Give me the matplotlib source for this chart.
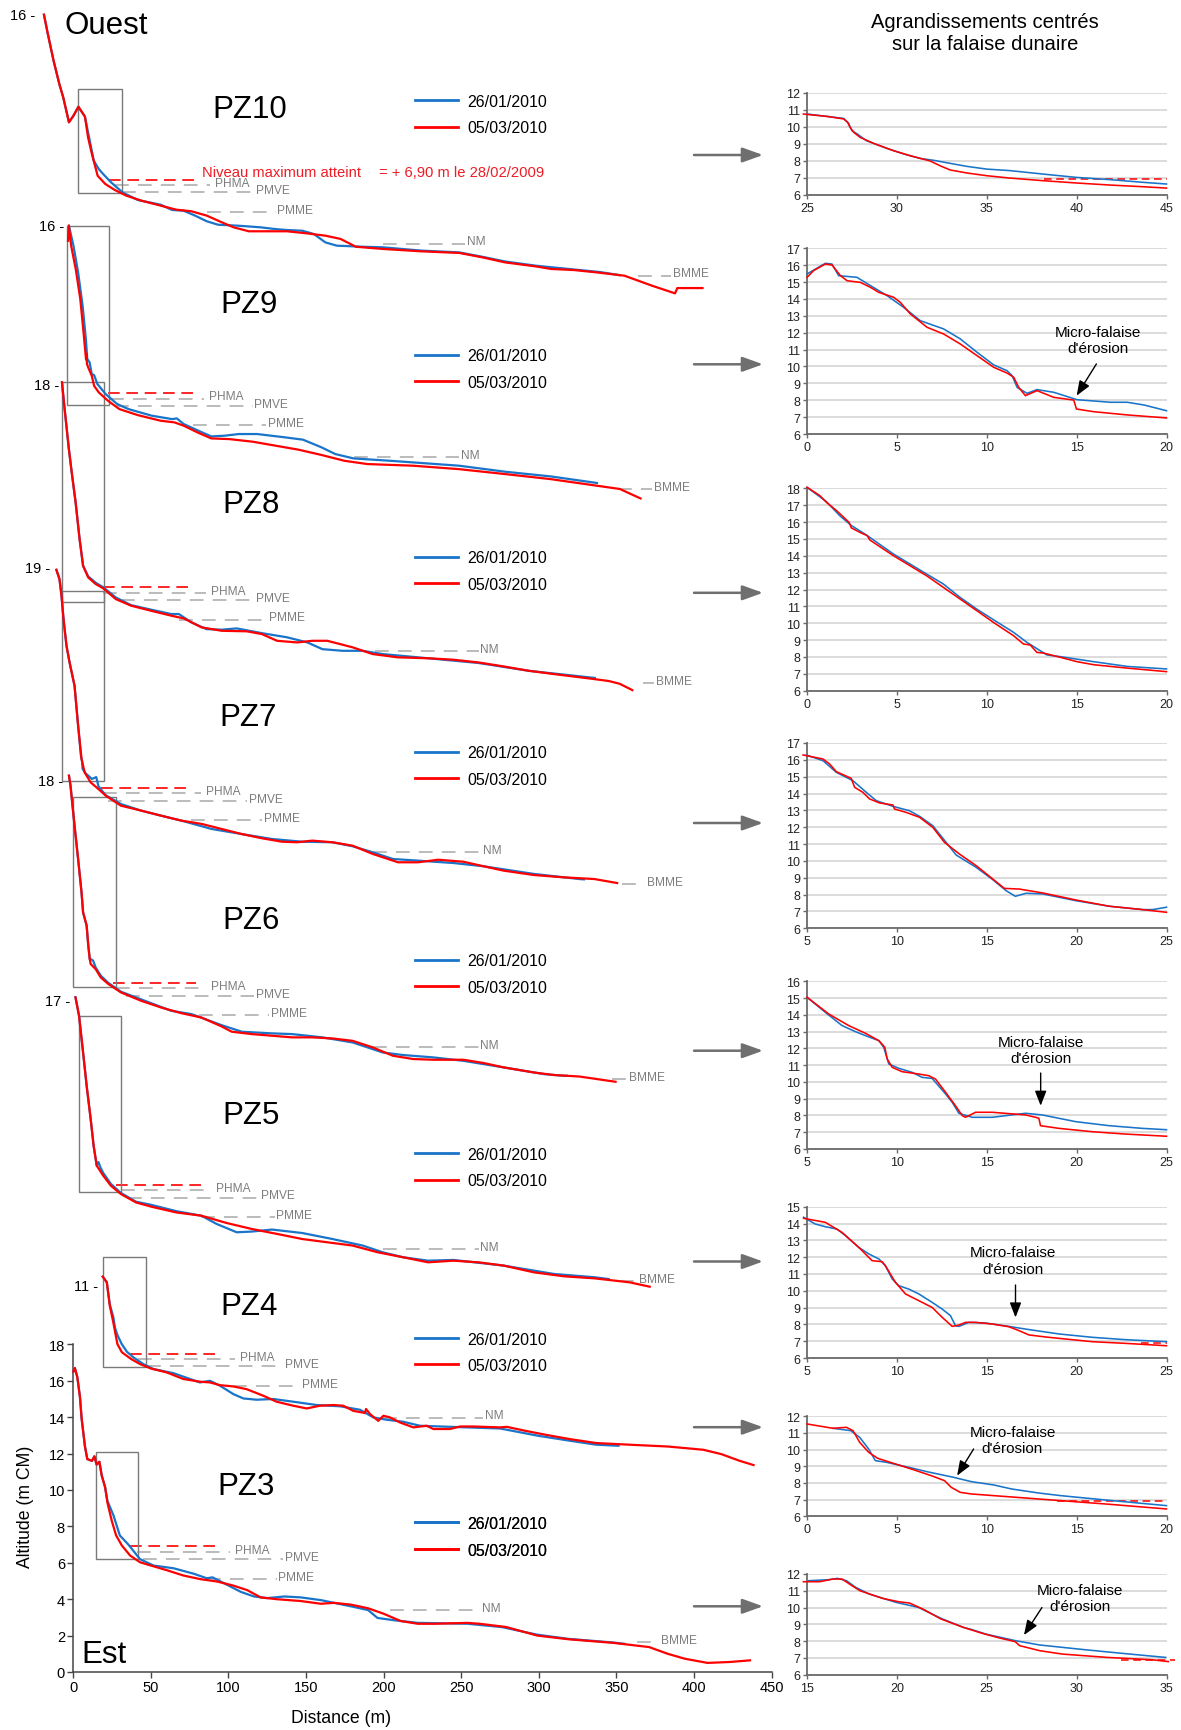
import matplotlib
matplotlib.use("Agg")
import matplotlib.pyplot as plt
from matplotlib.lines import Line2D
from matplotlib.patches import Rectangle

plt.rcParams['font.family'] = ['Liberation Sans', 'DejaVu Sans']

# ---------------------------------------------------------------- data
PROFILES = ['PZ10', 'PZ9', 'PZ8', 'PZ7', 'PZ6', 'PZ5', 'PZ4', 'PZ3']
SERIES = ['26/01/2010', '05/03/2010']
OFFSETS = [75.1, 63.37, 52.7, 41.67, 30.96, 19.87, 10.6, 0.0]   # vertical stacking (m)

PZ10_X_BLUE = [-18.9, -16.4, -12.7, -9.0, -6.5, -2.8, 0.1, 3.3, 7.5, 9.5, 13.2, 16.4, 19.3, 24.3, 31.7, 41.5, 56.3, 63.7, 71.1, 78.5, 86.0, 93.3, 105.7, 120.5, 130.3, 137.7, 147.6, 155.0, 162.4, 169.8, 187.0, 199.4, 224.0, 248.7, 263.5, 278.3, 298.0, 322.7, 339.4, 352]
PZ10_Z_BLUE = [15.96, 14.9, 13.43, 12.15, 11.42, 10.05, 10.41, 10.9, 10.36, 9.5, 7.94, 7.48, 7.2, 6.75, 6.2, 5.78, 5.52, 5.23, 5.19, 4.92, 4.61, 4.42, 4.37, 4.28, 4.18, 4.13, 4.09, 3.91, 3.45, 3.27, 3.21, 3.18, 3.0, 2.9, 2.66, 2.4, 2.17, 1.96, 1.82, 1.65]
PZ10_X_RED = [-18.9, -16.4, -12.7, -9.0, -6.5, -2.8, 0.1, 3.3, 7.5, 9.5, 12.0, 15.7, 20.6, 26.7, 34.1, 44.0, 56.3, 66.2, 76.1, 86.0, 95.8, 103.2, 113.1, 125.4, 137.7, 150.1, 162.4, 172.2, 182.1, 199.4, 224.0, 248.7, 263.5, 278.3, 298.0, 307.8, 322.7, 337.4, 355.1, 372.9, 387.7, 389.2, 405.4]
PZ10_Z_RED = [15.96, 14.9, 13.43, 12.15, 11.42, 10.05, 10.41, 10.9, 10.36, 9.22, 8.3, 7.11, 6.66, 6.33, 6.02, 5.74, 5.47, 5.25, 5.16, 4.92, 4.55, 4.28, 4.06, 4.06, 4.06, 3.95, 3.82, 3.64, 3.21, 3.09, 2.96, 2.87, 2.63, 2.35, 2.13, 1.99, 1.93, 1.8, 1.62, 1.07, 0.65, 0.94, 0.94]

PZ9_X_BLUE = [-2.85, 0.1, 3.1, 6.0, 8.1, 9.0, 10.5, 11.9, 13.4, 15.5, 20.8, 28.2, 35.6, 50.4, 63.7, 66.7, 71.1, 83, 88.9, 97.7, 106.6, 118.5, 136.2, 148, 159.9, 168.8, 180.6, 204.3, 233.8, 248.6, 278.2, 307.8, 337.4]
PZ9_Z_BLUE = [16.1, 15.0, 13.53, 11.7, 9.87, 8.77, 8.59, 7.94, 7.89, 7.4, 6.85, 6.3, 6.02, 5.66, 5.47, 5.51, 5.2, 4.74, 4.52, 4.56, 4.65, 4.65, 4.47, 4.34, 3.92, 3.55, 3.31, 3.18, 3.0, 2.91, 2.58, 2.32, 1.96]
PZ9_X_RED = [-3.4, -2.85, -1.4, 1.6, 4.5, 6.6, 8.2, 8.5, 8.8, 9.6, 11.9, 13.4, 16.4, 22.3, 29.7, 41.5, 56.3, 65.2, 71.1, 80, 88.9, 100.7, 115.5, 130.3, 145.1, 159.9, 174.7, 189.5, 219, 248.6, 278.2, 307.8, 337.4, 352.2, 365.5]
PZ9_Z_RED = [15.27, 16.1, 15.0, 13.7, 12.07, 10.23, 8.75, 9.05, 8.5, 8.31, 7.85, 7.3, 6.94, 6.48, 6.02, 5.69, 5.38, 5.29, 5.11, 4.74, 4.41, 4.37, 4.23, 4.01, 3.79, 3.5, 3.18, 3.0, 2.91, 2.72, 2.45, 2.17, 1.81, 1.63, 1.11]

PZ8_X_BLUE = [-7.3, -5.8, -2.85, -1.0, 1.5, 4.05, 6.3, 9.6, 14.4, 19.3, 27.4, 37.2, 50.1, 63.1, 68, 76.1, 85.8, 95.6, 105.3, 121.5, 137.8, 150.8, 160.5, 173.5, 186.5, 199.4, 228.6, 261.1, 293.6, 332.5, 336]
PZ8_Z_BLUE = [18.16, 16.87, 14.49, 13.2, 11.56, 9.55, 8.08, 7.5, 7.15, 6.9, 6.34, 5.92, 5.67, 5.43, 5.43, 4.97, 4.6, 4.57, 4.64, 4.38, 4.15, 3.87, 3.5, 3.41, 3.41, 3.23, 3.0, 2.74, 2.31, 1.95, 1.92]
PZ8_X_RED = [-7.3, -5.8, -2.85, -1.0, 1.5, 4.05, 6.3, 9.6, 14.4, 19.3, 27.4, 37.2, 50.1, 63.1, 71.2, 82.6, 95.6, 111.8, 121.5, 131.3, 144.3, 154, 163.7, 180, 192.9, 209.2, 228.6, 244.9, 261.1, 277.3, 293.6, 309.8, 332.5, 345, 352, 360.2]
PZ8_Z_RED = [18.16, 16.87, 14.49, 13.2, 11.56, 9.55, 8.08, 7.44, 7.08, 6.84, 6.25, 5.89, 5.61, 5.34, 5.19, 4.7, 4.51, 4.48, 4.33, 3.96, 3.87, 3.96, 3.96, 3.6, 3.23, 3.05, 3.0, 2.92, 2.77, 2.55, 2.31, 2.13, 1.89, 1.75, 1.6, 1.25]

PZ7_X_BLUE = [-10.9, -8.9, -7.6, -6.3, -4.4, -2.4, 0.8, 3.1, 5.0, 5.6, 6.0, 8.0, 12.0, 14.8, 16.2, 20.9, 30.7, 43.7, 56.6, 69.6, 89.1, 108.6, 128, 147.5, 167, 180, 192.9, 205.9, 222.2, 244.9, 264.4, 296.8, 326, 329]
PZ7_Z_BLUE = [18.89, 18.38, 17.47, 16.18, 14.72, 13.8, 12.52, 10.33, 8.6, 8.4, 7.95, 7.7, 7.4, 7.5, 7.0, 6.5, 6.02, 5.66, 5.38, 5.11, 4.65, 4.37, 4.1, 3.95, 3.92, 3.7, 3.37, 3.0, 2.91, 2.78, 2.6, 2.18, 1.9, 1.88]
PZ7_X_RED = [-10.9, -8.9, -7.6, -6.3, -4.4, -2.4, 0.8, 3.1, 5.3, 7.3, 11.2, 16.1, 20.9, 30.7, 43.7, 56.6, 69.6, 82.6, 95.6, 108.6, 121.5, 134.5, 144.3, 154, 167, 180, 192.9, 209.2, 222.2, 235.1, 251.4, 264.4, 277.3, 296.8, 316.3, 335.7, 350.4]
PZ7_Z_RED = [18.89, 18.38, 17.47, 16.18, 14.72, 13.8, 12.52, 10.33, 8.5, 7.76, 7.21, 6.85, 6.48, 5.93, 5.66, 5.38, 5.11, 4.93, 4.65, 4.37, 4.14, 3.95, 3.92, 4.01, 3.92, 3.73, 3.28, 2.82, 2.82, 2.96, 2.85, 2.6, 2.36, 2.12, 1.99, 1.9, 1.68]

PZ6_X_BLUE = [-2.8, -1.8, 0.8, 3.1, 5.3, 6.3, 8.6, 9.6, 10.6, 11.5, 12.8, 14.4, 17.7, 22.6, 30.7, 50.1, 63.1, 76.1, 95.6, 108.6, 128, 141, 160.5, 180, 199.4, 212.4, 231.9, 251.4, 277.3, 303.3, 316.3, 318]
PZ6_Z_BLUE = [18.29, 17.74, 15.54, 13.71, 11.88, 10.78, 10.05, 9.0, 8.21, 8.2, 8.12, 7.75, 7.3, 6.9, 6.42, 5.79, 5.37, 5.19, 4.58, 4.22, 4.13, 4.09, 3.91, 3.63, 3.08, 2.94, 2.81, 2.62, 2.26, 1.89, 1.8, 1.8]
PZ6_X_RED = [-2.8, -1.8, 0.8, 3.1, 5.3, 6.3, 8.6, 9.6, 10.6, 11.2, 14.4, 17.7, 22.6, 30.7, 43.7, 56.6, 69.6, 82.6, 95.6, 102.1, 115.1, 128, 141, 154, 167, 180, 192.9, 205.9, 218.9, 231.9, 251.4, 264.4, 277.3, 296.8, 309.8, 326, 349.4]
PZ6_Z_RED = [18.29, 17.74, 15.54, 13.71, 11.88, 10.78, 10.05, 9.0, 8.21, 7.94, 7.66, 7.2, 6.84, 6.38, 5.92, 5.55, 5.24, 5.0, 4.51, 4.22, 4.09, 4.0, 3.91, 3.91, 3.85, 3.72, 3.36, 2.9, 2.72, 2.68, 2.68, 2.5, 2.26, 1.98, 1.84, 1.76, 1.47]

PZ5_X_BLUE = [1.4, 3.7, 6.3, 8.6, 11.2, 13.1, 15.1, 16.2, 17.5, 19.3, 24.2, 30.7, 40.4, 50.1, 66.4, 82.6, 92.3, 105.3, 115, 128, 147.5, 167, 186.5, 199.4, 212.4, 228.6, 244.9, 277.3, 309.8, 335.7, 345]
PZ5_Z_BLUE = [17.2, 16.19, 14.17, 12.34, 10.51, 9.04, 7.95, 8.15, 7.85, 7.55, 6.95, 6.45, 5.97, 5.8, 5.45, 5.2, 4.75, 4.29, 4.33, 4.44, 4.25, 3.92, 3.56, 3.19, 2.92, 2.73, 2.77, 2.46, 2.0, 1.82, 1.72]
PZ5_X_RED = [1.4, 3.7, 6.3, 8.6, 11.2, 13.1, 15.1, 17.0, 19.3, 24.2, 30.7, 40.4, 50.1, 66.4, 82.6, 98.8, 115.1, 131.3, 147.5, 163.7, 180, 196.2, 212.4, 228.6, 244.9, 261.1, 277.3, 296.8, 316.3, 335.7, 358.5, 371.4]
PZ5_Z_RED = [17.2, 16.19, 14.17, 12.34, 10.51, 9.04, 7.95, 7.7, 7.4, 6.85, 6.39, 5.93, 5.7, 5.38, 5.2, 4.8, 4.47, 4.2, 3.92, 3.74, 3.56, 3.19, 2.92, 2.64, 2.73, 2.64, 2.46, 2.09, 1.87, 1.76, 1.54, 1.3]

PZ4_X_BLUE = [19.0, 21.6, 23.5, 25.8, 26.9, 28.5, 31.2, 34.5, 38.7, 45.1, 51.6, 64.5, 81.6, 88.1, 94.5, 103.1, 109.6, 118.2, 128.9, 141.8, 156.8, 171.8, 184.7, 193.3, 201.9, 212.6, 223.4, 253.5, 274.9, 279.3, 299.5, 319.7, 336.9, 351.3]
PZ4_Z_BLUE = [11.12, 10.81, 9.6, 8.9, 8.3, 7.9, 7.42, 7.0, 6.69, 6.32, 6.05, 5.82, 5.31, 5.4, 5.13, 4.67, 4.43, 4.36, 4.4, 4.25, 4.07, 4.0, 3.81, 3.39, 3.26, 3.15, 2.93, 2.84, 2.78, 2.71, 2.38, 2.11, 1.89, 1.83]
PZ4_X_RED = [19.0, 21.6, 23.5, 25.8, 28.4, 31.3, 37.2, 43.0, 49.8, 60.2, 70.9, 81.6, 88.1, 94.5, 103.1, 111.7, 122.4, 131.0, 141.8, 150.4, 158.9, 167.5, 174.0, 180.4, 187.9, 188.6, 191.2, 196.5, 199.8, 204.0, 210.5, 219.1, 227.7, 232.0, 242.7, 249.2, 257.8, 274.9, 279.3, 290.8, 305.3, 319.7, 336.9, 362.9, 383.0, 406.0, 417.6, 429.1, 438.3]
PZ4_Z_RED = [11.12, 10.81, 9.53, 8.6, 7.42, 6.97, 6.6, 6.32, 6.08, 5.86, 5.5, 5.35, 5.31, 5.16, 5.09, 4.94, 4.58, 4.25, 4.03, 3.88, 4.03, 4.07, 4.03, 3.75, 3.63, 3.85, 3.57, 3.2, 3.48, 3.39, 3.11, 2.84, 2.93, 2.75, 2.75, 2.89, 2.89, 2.84, 2.87, 2.66, 2.42, 2.2, 1.98, 1.87, 1.79, 1.61, 1.37, 1.01, 0.77]

PZ3_X_BLUE = [0, 1, 2.6, 4.3, 5.4, 7.5, 9, 12, 13.6, 15, 16.8, 18.3, 20.5, 22, 25.9, 30, 35.5, 43, 51.7, 64.6, 77.6, 86, 89.7, 95, 108, 116.4, 125, 136, 146.5, 159.5, 168, 181, 190, 196, 207, 222, 254, 276, 299, 319, 348, 355]
PZ3_Z_BLUE = [16.5, 16.7, 16.2, 15.1, 13.9, 12.4, 11.7, 11.6, 11.85, 11.4, 11.55, 10.8, 10.15, 9.4, 8.6, 7.5, 7.0, 6.2, 5.85, 5.7, 5.4, 5.15, 5.2, 4.97, 4.4, 4.15, 4.06, 4.15, 4.1, 3.95, 3.8, 3.57, 3.4, 2.97, 2.84, 2.7, 2.65, 2.47, 2.05, 1.82, 1.62, 1.55]
PZ3_X_RED = [0, 1, 2.6, 4.3, 5.4, 7.5, 9, 12, 13.6, 15, 16.8, 18.3, 20.5, 22, 24.8, 27.6, 31.3, 36.6, 43, 50, 60, 71, 82, 92.7, 103, 112, 120.7, 131, 146.5, 159.5, 168, 179, 190, 200, 211, 222, 233, 254, 261.8, 279, 299, 319, 348, 371, 383, 394, 408.6, 423, 436]
PZ3_Z_RED = [16.5, 16.7, 16.2, 15.1, 13.9, 12.4, 11.7, 11.6, 11.85, 11.4, 11.55, 10.8, 10.15, 9.3, 8.3, 7.5, 6.95, 6.4, 6.03, 5.85, 5.6, 5.3, 5.1, 4.97, 4.75, 4.5, 4.1, 4.0, 3.9, 3.75, 3.8, 3.7, 3.5, 3.2, 2.8, 2.65, 2.65, 2.7, 2.65, 2.47, 2.0, 1.8, 1.6, 1.37, 1.0, 0.73, 0.5, 0.55, 0.64]

# tide levels (m CM)
LEVEL_NAMES = ['PHMA', 'PMVE', 'PMME', 'NM', 'BMME']
LEVEL_VALUES = [6.6, 6.2, 5.12, 3.38, 1.63]
MAX_LEVEL = 6.9
MAX_LABEL = ['Niveau maximum atteint', '= + 6,90 m le 28/02/2009']
# extent (x start, x end) of each level line per profile
MAX_EXTENT = [(23.1, 78.5), (22.3, 77), (19.3, 76.1), (17.7, 76.1), (25.8, 79.3), (27.4, 82.6), (36.5, 92.4), (36.5, 92.4)]
LEVEL_EXTENTS = [
    [(26.7, 88.4), (31.7, 116.8), (86, 130.3), (199.4, 252.4), (364, 385)],
    [(23.8, 84.4), (26.7, 115.5), (77, 124.4), (180.6, 248.6), (350.7, 372.9)],
    [(19.3, 85.8), (30.7, 116.7), (68, 124.8), (194.6, 261.1), (367, 374)],
    [(19.3, 82.6), (22.6, 111.8), (76.1, 121.5), (192.9, 262.7), (353.7, 368.2)],
    [(27.4, 85.8), (33.9, 116.7), (81, 126.4), (193, 261.1), (347.1, 356.8)],
    [(30.7, 89.1), (35.5, 119.9), (82.6, 129.7), (199.4, 261.1), (352, 363.3)],
    [(41.9, 104.2), (47.3, 135.3), (103.1, 146.1), (199.8, 264.2), None],
    [(40.8, 101), (45.1, 135.3), (86, 131), (204, 262), (362.9, 377.3)],
]
# zoom boxes on the main chart (x0, x1, z0, z1)
BOXES = [(3.3, 31.2, 6.16, 11.88), (-4.3, 22.9, 6.27, 16.06), (-7.6, 20.0, 6.07, 18.2), (-7.6, 20.0, 7.27, 17.72),
         (-0.2, 27.4, 6.65, 17.1), (3.7, 30.7, 6.48, 16.15), (19.0, 46.9, 6.14, 12.18), (14.4, 41.5, 6.2, 12.1)]
TOP_LABELS = ['16', '16', '18', '19', '18', '17', '11', None]
TOP_LABEL_Z = [15.97, 16.1, 18.03, 18.99, 17.98, 17.01, 10.63, None]
TOP_LABEL_X = [-24.7, -5.8, -8.8, -14.8, -6.6, -1.8, 16.0, None]

# insets (enlargements of the dune cliff)
INSET_XLIM = [(25, 45), (0, 20), (0, 20), (5, 25), (5, 25), (5, 25), (0, 20), (15, 35)]
INSET_YLIM = [(6, 12), (6, 17), (6, 18), (6, 17), (6, 16), (6, 15), (6, 12), (6, 12)]

IN_PZ10_X_BLUE = [25.0, 27.04, 27.3, 27.5, 27.8, 28.3, 29.4, 30.4, 31.3, 32.04, 32.96, 33.9, 35.0, 36.3, 38.1, 40.0, 41.85, 43.7, 45.0]
IN_PZ10_Z_BLUE = [10.76, 10.5, 10.23, 9.78, 9.58, 9.19, 8.75, 8.4, 8.14, 8.03, 7.85, 7.67, 7.51, 7.42, 7.22, 7.02, 6.89, 6.73, 6.63]
IN_PZ10_X_RED = [24.8, 26.1, 27.04, 27.26, 27.4, 27.6, 27.96, 28.7, 29.8, 30.74, 31.85, 32.4, 32.96, 33.9, 35.0, 36.3, 38.1, 40.0, 41.85, 43.7, 45.0]
IN_PZ10_Z_RED = [10.76, 10.62, 10.47, 10.27, 9.97, 9.68, 9.38, 9.03, 8.6, 8.3, 7.99, 7.71, 7.46, 7.28, 7.12, 6.98, 6.83, 6.69, 6.57, 6.47, 6.39]

IN_PZ9_X_BLUE = [0, 1.02, 1.39, 1.76, 2.78, 3.53, 4.45, 5.38, 6.31, 7.61, 8.53, 9.46, 10.39, 11.13, 11.41, 11.69, 12.24, 12.8, 13.73, 15.03, 16.88, 17.81, 18.74, 20]
IN_PZ9_Z_BLUE = [15.48, 16.11, 16.07, 15.38, 15.28, 14.79, 14.2, 13.5, 12.71, 12.22, 11.63, 10.84, 10.09, 9.75, 9.46, 8.76, 8.41, 8.63, 8.47, 8.03, 7.88, 7.88, 7.72, 7.38]
IN_PZ9_X_RED = [0, 0.37, 1.02, 1.39, 1.86, 2.23, 2.97, 3.53, 3.99, 4.82, 5.19, 5.75, 6.68, 7.61, 8.53, 9.46, 10.39, 11.13, 11.5, 11.78, 12.15, 12.8, 13.73, 14.84, 14.99, 15.96, 17.81, 20]
IN_PZ9_Z_RED = [15.28, 15.68, 16.07, 16.01, 15.38, 15.08, 14.98, 14.69, 14.39, 14.1, 13.8, 13.11, 12.32, 11.92, 11.33, 10.64, 9.95, 9.61, 9.36, 8.76, 8.27, 8.57, 8.17, 8.01, 7.48, 7.32, 7.13, 6.95]

IN_PZ8_X_BLUE = [0, 1.08, 1.82, 2.47, 3.31, 4.8, 6.65, 7.58, 8.51, 9.44, 10.37, 11.49, 12.23, 13.35, 14.09, 15.95, 17.81, 20]
IN_PZ8_Z_BLUE = [18.06, 17.21, 16.38, 15.79, 15.23, 14.11, 12.92, 12.33, 11.54, 10.84, 10.21, 9.46, 8.87, 8.12, 8.02, 7.72, 7.44, 7.29]
IN_PZ8_X_RED = [0, 0.71, 1.08, 1.64, 2.34, 2.47, 2.94, 3.35, 3.49, 4.8, 6.65, 7.58, 8.51, 9.44, 10.37, 11.49, 12.04, 12.42, 12.79, 13.16, 14.09, 15.02, 15.95, 17.81, 20]
IN_PZ8_Z_RED = [18.06, 17.57, 17.17, 16.68, 15.98, 15.65, 15.39, 15.19, 14.94, 14.01, 12.82, 12.13, 11.44, 10.75, 10.05, 9.26, 8.77, 8.71, 8.27, 8.23, 7.98, 7.72, 7.54, 7.34, 7.13]

IN_PZ7_X_BLUE = [4.96, 5.89, 6.63, 7.56, 8.3, 8.85, 9.78, 10.7, 11.26, 12.0, 12.74, 13.3, 14.41, 15.33, 16.07, 16.59, 17.19, 18.11, 19.96, 21.81, 23.67, 24.22, 25]
IN_PZ7_Z_BLUE = [16.29, 15.95, 15.26, 14.76, 14.07, 13.58, 13.24, 12.98, 12.65, 12.09, 11.1, 10.35, 9.62, 8.89, 8.24, 7.9, 8.08, 8.04, 7.64, 7.31, 7.11, 7.11, 7.25]
IN_PZ7_X_RED = [4.78, 5.89, 6.26, 6.63, 7.46, 7.65, 8.11, 8.48, 9.04, 9.78, 9.87, 10.52, 11.26, 12.0, 12.65, 13.48, 14.41, 15.33, 15.98, 16.81, 18.11, 19.96, 21.81, 23.67, 25]
IN_PZ7_Z_RED = [16.29, 16.05, 15.75, 15.3, 14.9, 14.37, 14.07, 13.68, 13.44, 13.32, 13.08, 12.88, 12.59, 11.99, 11.1, 10.41, 9.72, 8.93, 8.37, 8.33, 8.1, 7.68, 7.31, 7.11, 6.95]

IN_PZ6_X_BLUE = [5, 6.02, 6.95, 7.69, 8.25, 9.0, 9.27, 9.55, 10.11, 10.85, 11.41, 11.96, 12.71, 13.08, 13.45, 14.19, 15.31, 17.16, 18.09, 19.95, 21.81, 23.66, 25]
IN_PZ6_Z_BLUE = [15.05, 14.15, 13.36, 13.0, 12.76, 12.46, 12.06, 11.07, 10.81, 10.57, 10.27, 10.21, 9.28, 8.78, 8.13, 7.89, 7.89, 8.13, 8.03, 7.63, 7.39, 7.23, 7.15]
IN_PZ6_X_RED = [5, 6.21, 7.32, 8.25, 9.0, 9.33, 9.46, 9.74, 10.29, 11.22, 11.78, 12.15, 12.71, 13.26, 13.64, 13.82, 14.38, 15.31, 17.16, 17.72, 17.9, 17.99, 19.02, 20.88, 22.73, 25]
IN_PZ6_Z_RED = [15.05, 14.05, 13.36, 12.9, 12.46, 12.06, 11.37, 10.87, 10.61, 10.47, 10.37, 10.17, 9.38, 8.58, 7.99, 7.89, 8.19, 8.19, 8.03, 7.89, 7.83, 7.39, 7.23, 7.03, 6.89, 6.76]

IN_PZ5_X_BLUE = [4.81, 5.46, 6.02, 6.67, 7.14, 7.88, 8.44, 9.0, 9.36, 9.74, 10.11, 10.66, 11.22, 11.96, 12.52, 12.98, 13.26, 13.45, 14.0, 14.94, 16.23, 17.16, 19.02, 20.88, 22.73, 25]
IN_PZ5_Z_BLUE = [14.37, 13.97, 13.81, 13.67, 13.28, 12.58, 12.19, 11.89, 11.49, 10.7, 10.3, 10.1, 9.81, 9.31, 8.91, 8.52, 7.92, 7.88, 8.12, 8.08, 7.88, 7.72, 7.43, 7.23, 7.09, 6.97]
IN_PZ5_X_RED = [4.81, 6.02, 6.95, 7.88, 8.62, 9.18, 9.36, 9.92, 10.48, 11.22, 11.96, 12.52, 13.08, 13.45, 13.82, 14.38, 15.31, 16.23, 16.79, 17.35, 18.28, 19.0, 20.88, 22.73, 25]
IN_PZ5_Z_RED = [14.31, 14.07, 13.47, 12.58, 11.79, 11.73, 11.49, 10.5, 9.81, 9.41, 9.01, 8.42, 7.88, 7.96, 8.12, 8.12, 8.02, 7.86, 7.63, 7.37, 7.25, 7.17, 6.97, 6.87, 6.73]

IN_PZ4_X_BLUE = [1.44, 2.43, 2.93, 3.43, 3.8, 4.42, 5.66, 6.66, 8.15, 9.14, 10.39, 11.38, 12.87, 14.11, 16.6, 20]
IN_PZ4_Z_BLUE = [11.28, 11.14, 10.74, 10.04, 9.34, 9.24, 8.94, 8.68, 8.34, 8.08, 7.88, 7.64, 7.4, 7.24, 6.98, 6.64]
IN_PZ4_X_RED = [0, 1.44, 2.19, 2.56, 2.93, 3.43, 3.93, 4.92, 5.91, 6.91, 7.65, 8.02, 8.52, 9.14, 11.63, 14.11, 16.6, 20]
IN_PZ4_Z_RED = [11.54, 11.28, 11.34, 11.14, 10.44, 9.84, 9.48, 9.14, 8.8, 8.44, 8.14, 7.74, 7.44, 7.34, 7.14, 6.94, 6.74, 6.44]

IN_PZ3_X_BLUE = [15.08, 16.2, 16.7, 17.2, 17.7, 18.45, 19.95, 21.2, 22.45, 23.7, 24.2, 24.95, 26.58, 27.95, 30.45, 32.95, 34.95]
IN_PZ3_Z_BLUE = [11.6, 11.66, 11.74, 11.6, 11.21, 10.81, 10.31, 10.01, 9.36, 8.82, 8.68, 8.42, 8.03, 7.77, 7.49, 7.23, 7.03]
IN_PZ3_X_RED = [14.8, 15.7, 16.45, 16.95, 17.45, 17.95, 19.2, 20.08, 20.7, 21.45, 22.45, 23.7, 24.7, 25.7, 26.58, 26.83, 27.95, 29.2, 31.7, 34.2, 35.1]
IN_PZ3_Z_RED = [11.54, 11.54, 11.7, 11.7, 11.34, 11.0, 10.55, 10.35, 10.27, 9.91, 9.32, 8.82, 8.48, 8.19, 7.97, 7.73, 7.43, 7.23, 7.03, 6.89, 6.78]

INSET_MAX_EXTENT = [(38.2, 45), None, None, None, None, (23.6, 25), (13.9, 20), (32.45, 35.5)]
ANNOT_TEXT = "Micro-falaise\nd'érosion"
# (text x, text y, arrow start x, y, arrow tip x, y) per inset
ANNOTS = [None, (16.2, 11.57, 16.1, 10.15, 15.0, 8.27), None, None,
          (18.0, 11.9, 18.0, 10.53, 18.0, 8.58), (16.46, 11.8, 16.6, 10.34, 16.6, 8.41),
          (11.43, 10.6, 9.27, 10.04, 8.35, 8.44), (30.16, 10.58, 28.07, 10.0, 27.07, 8.36)]

MAIN_XTICKS = list(range(0, 451, 50))
MAIN_YTICKS = list(range(0, 19, 2))

# ---------------------------------------------------------------- layout
W, H, DPI = 1181, 1731, 100
BLUE = '#1a74c9'
RED = '#ff0000'
GRAY_LINE = '#a8a8a8'
GRAY_TXT = '#7d7d7d'
AX_COL = '#454545'

def fx(px):
    return px / W

def fy(py):
    return 1 - py / H

fig = plt.figure(figsize=(W / DPI, H / DPI), dpi=DPI)

# main axes: x=0 at px 73.3, 1.552 px/m ; z=0 at py 1673, 18.2 px/m
X_MIN, X_MAX = -30, 455
x_left_px = 73.3 + X_MIN * 1.552
x_right_px = 73.3 + X_MAX * 1.552
Y_MAX = 1673 / 18.2
ax = fig.add_axes([fx(x_left_px), fy(1673), (x_right_px - x_left_px) / W, 1673 / H])
ax.set_xlim(X_MIN, X_MAX)
ax.set_ylim(0, Y_MAX)
ax.patch.set_alpha(0)
for s in ['top', 'right']:
    ax.spines[s].set_visible(False)
ax.spines['left'].set_position(('data', 0))
ax.spines['left'].set_bounds(0, 18)
ax.spines['bottom'].set_bounds(0, 450)
for s in ['left', 'bottom']:
    ax.spines[s].set_color(AX_COL)
    ax.spines[s].set_linewidth(1.1)
ax.set_xticks(MAIN_XTICKS)
ax.set_yticks(MAIN_YTICKS)
ax.tick_params(direction='out', length=4, width=1, color=AX_COL, labelsize=10.5, pad=2)

data = globals()
for i, name in enumerate(PROFILES):
    off = OFFSETS[i]
    xb, zb = data[name + '_X_BLUE'], data[name + '_Z_BLUE']
    xr, zr = data[name + '_X_RED'], data[name + '_Z_RED']
    lb, = ax.plot(xb, [z + off for z in zb], color=BLUE, lw=1.6, clip_on=False, zorder=3)
    lr, = ax.plot(xr, [z + off for z in zr], color=RED, lw=1.6, clip_on=False, zorder=4)

    # max level (red dashed)
    x0, x1 = MAX_EXTENT[i]
    ax.plot([x0, x1], [MAX_LEVEL + off] * 2, color=RED, lw=1.2, dashes=(7, 4), zorder=2)
    # tide levels
    for lvl_name, lvl, ext in zip(LEVEL_NAMES, LEVEL_VALUES, LEVEL_EXTENTS[i]):
        if ext is None:
            continue
        ax.plot([ext[0], ext[1]], [lvl + off] * 2, color=GRAY_LINE, lw=1.1, dashes=(9, 6), zorder=1)
        gap = 3.0 if lvl_name == 'PHMA' else 1.2
        ax.text(ext[1] + gap, lvl + off + 0.12, lvl_name, color=GRAY_TXT, fontsize=8.6,
                ha='left', va='center')
    # box
    bx0, bx1, bz0, bz1 = BOXES[i]
    ax.add_patch(Rectangle((bx0, bz0 + off), bx1 - bx0, bz1 - bz0, fill=False,
                           ec='#7a7a7a', lw=1.0, clip_on=False, zorder=2))
    # top label
    if TOP_LABELS[i] is not None:
        ax.text(TOP_LABEL_X[i], TOP_LABEL_Z[i] + off, TOP_LABELS[i] + ' -', ha='right',
                va='center', fontsize=10.5)
    # legend
    leg_mid = [115.5, 370.2, 572.2, 767.2, 975.2, 1168.5, 1353.3, 1537.8][i]
    leg = ax.legend([lb, lr], SERIES, loc='center left', bbox_to_anchor=(fx(415), fy(leg_mid)),
                    bbox_transform=fig.transFigure, frameon=False, borderpad=0, borderaxespad=0,
                    handlelength=2.7, handletextpad=0.6, labelspacing=0.72, fontsize=11.5)
    for h in leg.legend_handles:
        h.set_linewidth(2.0)
    ax.add_artist(leg)

# "niveau maximum" text (PZ10)
ax.text(82.7, MAX_LEVEL + OFFSETS[0] + 0.4, MAX_LABEL[0], color='#ee1c25', fontsize=10.6, ha='left', va='center')
ax.text(197.0, MAX_LEVEL + OFFSETS[0] + 0.4, MAX_LABEL[1], color='#ee1c25', fontsize=10.6, ha='left', va='center')

# profile names
PZ_BASE = [118.3, 313.3, 513.3, 726.0, 929.3, 1124.3, 1315.0, 1495.0]
PZ_CX = [250, 249, 251, 248, 251, 251, 249, 246]
for name, cx, by in zip(PROFILES, PZ_CX, PZ_BASE):
    fig.text(fx(cx), fy(by), name, fontsize=22.5, ha='center', va='baseline')
fig.text(fx(65), fy(34.3), 'Ouest', fontsize=22.5, ha='left', va='baseline')
fig.text(fx(81.7), fy(1663.3), 'Est', fontsize=22.5, ha='left', va='baseline')
fig.text(fx(25.7), fy(1507), 'Altitude (m CM)', rotation=90, fontsize=12.7, ha='center', va='center')
fig.text(fx(341), fy(1719), 'Distance (m)', fontsize=12.7, ha='center', va='center')
fig.text(fx(985), fy(34), 'Agrandissements centrés\nsur la falaise dunaire', fontsize=14.5,
         ha='center', va='center', linespacing=1.2)

# arrows towards the insets
ARROW_Y = [156.0, 365.3, 593.8, 824.0, 1051.7, 1262.5, 1428.2, 1607.3]
for py in ARROW_Y:
    ax.annotate('', xy=(fx(763), fy(py)), xytext=(fx(694), fy(py)), xycoords='figure fraction',
                textcoords='figure fraction', annotation_clip=False,
                arrowprops=dict(arrowstyle='-|>,head_length=1.25,head_width=0.45', color='#6f6f6f',
                                lw=1.8, shrinkA=0, shrinkB=0, mutation_scale=10))

# insets
INSET_TB = [(94, 195.7), (249.3, 435), (489.3, 691.7), (744, 929.3), (982.3, 1150),
            (1207.7, 1359), (1417.3, 1517.3), (1575, 1675.7)]
IN_L, IN_R = 807.0, 1166.5
for i, name in enumerate(PROFILES):
    top, bot = INSET_TB[i]
    ai = fig.add_axes([fx(IN_L), fy(bot), (IN_R - IN_L) / W, (bot - top) / H])
    x0, x1 = INSET_XLIM[i]
    y0, y1 = INSET_YLIM[i]
    ai.set_xlim(x0, x1)
    ai.set_ylim(y0, y1)
    ai.set_xticks(list(range(x0, x1 + 1, 5)))
    ai.set_yticks(list(range(y0, y1 + 1)))
    ai.yaxis.grid(True, color='#d2d2d2', lw=1.1)
    ai.set_axisbelow(True)
    ai.patch.set_alpha(0)
    for s in ['top', 'right']:
        ai.spines[s].set_visible(False)
    for s in ['left', 'bottom']:
        ai.spines[s].set_color('#6a6a6a')
        ai.spines[s].set_linewidth(1.3)
    ai.tick_params(direction='out', length=3, width=1, color='#6a6a6a', labelsize=9, pad=2,
                   labelcolor='#222222')
    ai.plot(data['IN_' + name + '_X_BLUE'], data['IN_' + name + '_Z_BLUE'], color=BLUE, lw=1.15,
            clip_on=False, zorder=3)
    ai.plot(data['IN_' + name + '_X_RED'], data['IN_' + name + '_Z_RED'], color=RED, lw=1.15,
            clip_on=False, zorder=4)
    if INSET_MAX_EXTENT[i] is not None:
        ex0, ex1 = INSET_MAX_EXTENT[i]
        ai.plot([ex0, ex1], [MAX_LEVEL] * 2, color=RED, lw=1.1, dashes=(5, 3), clip_on=False, zorder=2)
    if ANNOTS[i] is not None:
        tx, ty, sx, sy, ex, ey = ANNOTS[i]
        ai.text(tx, ty, ANNOT_TEXT, ha='center', va='center', fontsize=11, linespacing=1.2)
        ai.annotate('', xy=(ex, ey), xytext=(sx, sy),
                    arrowprops=dict(arrowstyle='-|>,head_length=0.9,head_width=0.35', color='black',
                                    lw=1.0, shrinkA=0, shrinkB=0, mutation_scale=10))

fig.savefig('out.png', dpi=DPI)
